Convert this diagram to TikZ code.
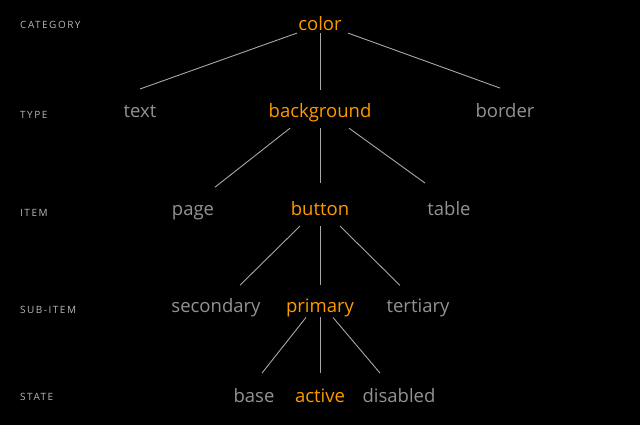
\documentclass[tikz,border=0pt]{standalone}
\usepackage{fontspec}
\setmainfont{Open Sans}
\newfontfamily\lblfont[LetterSpace=15]{Open Sans}
\usetikzlibrary{calc}
\definecolor{amzorange}{HTML}{FF9900}
\definecolor{txtgrey}{HTML}{939393}
\definecolor{linegrey}{HTML}{A8A8A8}
\definecolor{lblgrey}{HTML}{B8B8B8}
\begin{document}
\begin{tikzpicture}[x=1pt,y=-1pt,
  term/.style={font=\fontsize{18.5}{22}\selectfont, text=txtgrey, anchor=base, inner sep=0pt},
  hot/.style={term, text=amzorange},
  lvl/.style={font=\lblfont\fontsize{10}{12}\selectfont, text=lblgrey, anchor=base west, inner sep=0pt},
  edge/.style={draw=linegrey, line width=0.9pt}]
\fill[black] (0,0) rectangle (640,425);
\useasboundingbox (0,0) rectangle (640,425);
% level labels
\node[lvl] (lcat) at (20,29) {CATEGORY};
\node[lvl] (ltype) at (20,119) {TYPE};
\node[lvl] (litem) at (20,216) {ITEM};
\node[lvl] (lsub) at (20,313) {SUB-ITEM};
\node[lvl] (lstate) at (20,400) {STATE};
% terms
\node[hot] (color) at (320,31) {color};
\node[term] (text) at (140,118) {text};
\node[hot] (bg) at (320,118) {background};
\node[term] (border) at (505,118) {border};
\node[term] (page) at (193,215) {page};
\node[hot] (button) at (320,215) {button};
\node[term] (table) at (449,215) {table};
\node[term] (secondary) at (216,312) {secondary};
\node[hot] (primary) at (320,312) {primary};
\node[term] (tertiary) at (418,312) {tertiary};
\node[term] (base) at (254,402) {base};
\node[hot] (active) at (320,402) {active};
\node[term] (disabled) at (399,402) {disabled};
% connectors
\draw[edge] ($(color)+(-23,9)$) -- ($(text)+(0,-23)$);
\draw[edge] ($(color)+(0,9)$) -- ($(bg)+(0,-23)$);
\draw[edge] ($(color)+(28,9)$) -- ($(border)+(-5,-23)$);
\draw[edge] ($(bg)+(-30,15)$) -- ($(page)+(22,-25)$);
\draw[edge] ($(bg)+(0,15)$) -- ($(button)+(0,-25)$);
\draw[edge] ($(bg)+(29,15)$) -- ($(table)+(-24,-25)$);
\draw[edge] ($(button)+(-20,18)$) -- ($(secondary)+(24,-22)$);
\draw[edge] ($(button)+(0,18)$) -- ($(primary)+(0,-22)$);
\draw[edge] ($(button)+(20,18)$) -- ($(tertiary)+(-18,-22)$);
\draw[edge] ($(primary)+(-14,10)$) -- ($(base)+(8,-22)$);
\draw[edge] ($(primary)+(0,10)$) -- ($(active)+(0,-22)$);
\draw[edge] ($(primary)+(13,10)$) -- ($(disabled)+(-19,-22)$);
\end{tikzpicture}
\end{document}
